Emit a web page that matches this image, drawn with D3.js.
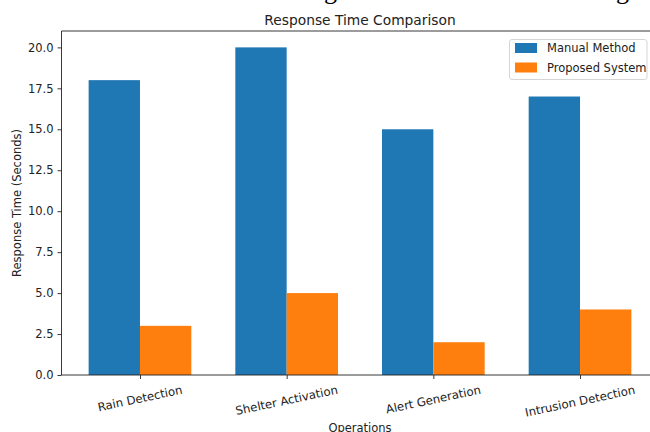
<!DOCTYPE html>
<html>
<head>
<meta charset="utf-8">
<script src="https://cdn.jsdelivr.net/npm/d3@7"></script>
<style>
  html, body { margin: 0; padding: 0; background: #fff; }
  svg { display: block; }
  text { font-family: "DejaVu Sans", sans-serif; fill: #222; }
</style>
</head>
<body>
<script>
const categories = ["Rain Detection", "Shelter Activation", "Alert Generation", "Intrusion Detection"];
const manualMethod = [18, 20, 15, 17];
const proposedSystem = [3, 5, 2, 4];
const seriesNames = ["Manual Method", "Proposed System"];
const seriesColors = ["#1f77b4", "#ff7f0e"];
const yTickValues = [0, 2.5, 5, 7.5, 10, 12.5, 15, 17.5, 20];
const titleText = "Response Time Comparison";
const xLabelText = "Operations";
const yLabelText = "Response Time (Seconds)";

const W = 650, H = 432;
const barW = 0.35;
const svg = d3.select("body").append("svg").attr("width", W).attr("height", H);

const x = d3.scaleLinear().domain([-0.535, 3.535]).range([61.5, 658.5]);
const y = d3.scaleLinear().domain([0, 21]).range([375, 31]);

// partial text from surrounding document (cut off at top)
svg.append("text").attr("x", 324).attr("y", -1).style("font-family", "Liberation Serif")
  .style("font-size", "26px").style("fill", "#000").text("g");
svg.append("text").attr("x", 616).attr("y", -1).style("font-family", "Liberation Serif")
  .style("font-size", "26px").style("fill", "#000").text("g");

// bars
const series = [manualMethod, proposedSystem];
series.forEach((vals, si) => {
  svg.append("g").selectAll("rect").data(vals).join("rect")
    .attr("x", (d, i) => x(i + (si === 0 ? -barW : 0)))
    .attr("width", (d, i) => x(i + barW) - x(i))
    .attr("y", d => y(d))
    .attr("height", d => y(0) - y(d))
    .attr("fill", seriesColors[si]);
});

// y axis
const yAxis = d3.axisLeft(y).tickValues(yTickValues).tickFormat(d3.format(".1f")).tickSize(4).tickPadding(4);
const gy = svg.append("g").attr("transform", `translate(${x.range()[0]},0)`).call(yAxis);
gy.select(".domain").remove();
gy.selectAll("line").attr("stroke", "#222").attr("stroke-width", 0.9);
gy.selectAll("text").style("font-size", "11.5px").style("font-family", "DejaVu Sans").attr("fill", "#222");

// x axis ticks
const xAxis = d3.axisBottom(x).tickValues(d3.range(categories.length)).tickFormat("").tickSize(4);
const gx = svg.append("g").attr("transform", `translate(0,${y(0)})`).call(xAxis);
gx.select(".domain").remove();
gx.selectAll("line").attr("stroke", "#222").attr("stroke-width", 0.9);

// rotated x tick labels
const rot = 12, rad = rot * Math.PI / 180, lh = 13.4, topY = 383;
categories.forEach((c, i) => {
  const t = svg.append("text").style("font-size", "11.7px").attr("text-anchor", "middle")
    .attr("dominant-baseline", "central").text(c);
  const w = t.node().getComputedTextLength();
  const bh = w * Math.sin(rad) + lh * Math.cos(rad);
  const cy = topY + bh / 2;
  t.attr("transform", `translate(${x(i)},${cy}) rotate(${-rot})`);
});

// spines
const [x0, x1] = x.range();
const frame = svg.append("g").attr("stroke", "#222").attr("stroke-width", 0.9).attr("fill", "none");
frame.append("line").attr("x1", x0).attr("x2", x0).attr("y1", y(21)).attr("y2", y(0));
frame.append("line").attr("x1", x0).attr("x2", x1).attr("y1", y(0)).attr("y2", y(0));
frame.append("line").attr("x1", x0).attr("x2", x1).attr("y1", y(21)).attr("y2", y(21));
frame.append("line").attr("x1", x1).attr("x2", x1).attr("y1", y(21)).attr("y2", y(0));

// title and labels
svg.append("text").attr("x", (x0 + x1) / 2).attr("y", 24.5).attr("text-anchor", "middle")
  .style("font-size", "13.8px").text(titleText);
svg.append("text").attr("x", (x0 + x1) / 2).attr("y", 431.5).attr("text-anchor", "middle")
  .style("font-size", "11.5px").text(xLabelText);
svg.append("text").attr("transform", `translate(20.5,${(y(0) + y(21)) / 2}) rotate(-90)`)
  .attr("text-anchor", "middle").style("font-size", "11.5px").text(yLabelText);

// legend
const lg = svg.append("g");
lg.append("rect").attr("x", 509.5).attr("y", 39.5).attr("width", 137.5).attr("height", 40)
  .attr("rx", 2.5).attr("fill", "#fff").attr("fill-opacity", 0.8).attr("stroke", "#d0d0d0").attr("stroke-width", 0.9);
seriesNames.forEach((n, i) => {
  const cy = 48 + i * 19.5;
  lg.append("rect").attr("x", 515).attr("y", cy - 5).attr("width", 22).attr("height", 10).attr("fill", seriesColors[i]);
  lg.append("text").attr("x", 547).attr("y", cy).attr("dominant-baseline", "central")
    .style("font-size", "11.5px").text(n);
});
</script>
</body>
</html>
